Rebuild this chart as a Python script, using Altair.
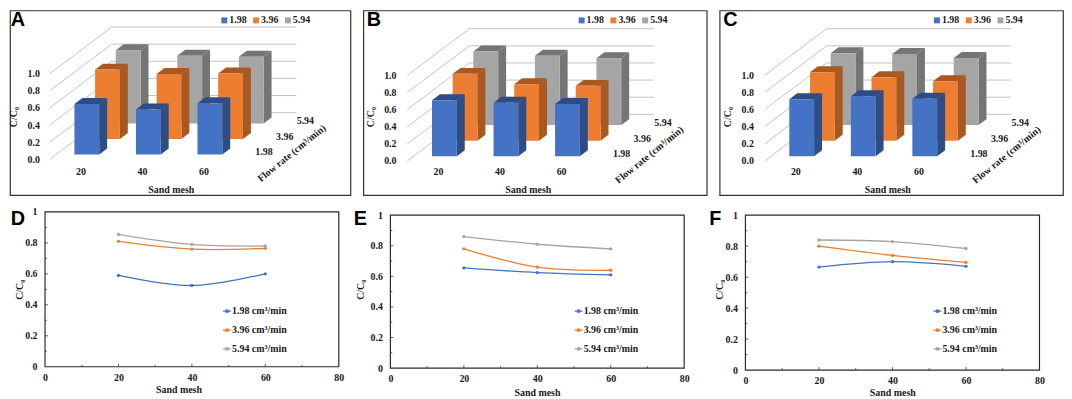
import altair as alt
import pandas as pd

MESH = [20, 40, 60]
FLOWS = ["1.98", "3.96", "5.94"]
VALUES = {
    "A": {"1.98": [0.59, 0.525, 0.60], "3.96": [0.81, 0.76, 0.765], "5.94": [0.855, 0.79, 0.78]},
    "B": {"1.98": [0.655, 0.625, 0.61], "3.96": [0.78, 0.66, 0.64], "5.94": [0.86, 0.81, 0.78]},
    "C": {"1.98": [0.665, 0.70, 0.67], "3.96": [0.80, 0.74, 0.695], "5.94": [0.84, 0.83, 0.785]},
}
LINE_PANELS = {"D": "A", "E": "B", "F": "C"}
FRONT = {"1.98": "#4472C4", "3.96": "#ED7D31", "5.94": "#A5A5A5"}
DARK = {"1.98": "#2C4D88", "3.96": "#A9591F", "5.94": "#757575"}
SUB = "C/C\u2080"
INK = "#1a1a1a"
SERIF = "Liberation Serif"
FS = 10

# one flow row of the 3D floor, in mesh units and in C/C0 units
ROW_X, ROW_Y = 6.72, 0.1816
FRONT_D, BAR_D, HALF_W = 0.308, 0.384, 4.03


def axis_3d_x(offset, title_x):
    return alt.Axis(values=MESH, format="d", domain=False, ticks=False, grid=False, labelPadding=2,
                    labelFlush=False, offset=offset, title="Sand mesh", titleX=title_x, titleY=25,
                    titleBaseline="middle", titleAlign="center", labelAngle=0)


def axis_3d_y(offset, title_x):
    return alt.Axis(values=[0, 0.2, 0.4, 0.6, 0.8, 1.0], format=".1f", domain=False, ticks=False, grid=False,
                    labelPadding=2, offset=offset, title=SUB, titleX=title_x, titleY=107, titleAngle=270,
                    titleAlign="center", titleBaseline="middle")


def panel_3d(name, w, x20, y0, ax_off, y_title, x_title, leg_x, letter_x):
    vals = VALUES[name]
    X = alt.X("x:Q", scale=alt.Scale(domain=[20, 60], range=[x20, x20 + 124], nice=False, zero=False),
              axis=axis_3d_x(-31, x_title))
    Y = alt.Y("y:Q", scale=alt.Scale(domain=[0, 1], range=[y0, y0 - 86.3], nice=False, zero=False),
              axis=axis_3d_y(ax_off, y_title))
    layers = []
    grid = []
    for lv in [0, 0.2, 0.4, 0.6, 0.8, 1.0]:
        grid += [
            {"x": 10, "y": lv, "k": lv, "o": 0},
            {"x": 10 + 3 * ROW_X, "y": lv + 3 * ROW_Y, "k": lv, "o": 1},
            {"x": 70 + 3 * ROW_X, "y": lv + 3 * ROW_Y, "k": lv, "o": 2},
        ]
    layers.append(alt.Chart(pd.DataFrame(grid)).mark_line(color="#c4c4c4", strokeWidth=1).encode(
        x=X, y=Y, detail="k:N", order="o:Q"))
    for r in [2, 1, 0]:
        fl = FLOWS[r]
        f = r + FRONT_D
        side, top, front = [], [], []
        for m, v in zip(MESH, vals[fl]):
            xl = m + f * ROW_X - HALF_W
            xr = m + f * ROW_X + HALF_W
            yb = f * ROW_Y
            yt = yb + v
            dx, dy = BAR_D * ROW_X, BAR_D * ROW_Y
            side += [{"x": xr, "y": yt, "y2": yb, "m": m}, {"x": xr + dx, "y": yt + dy, "y2": yb + dy, "m": m}]
            top += [{"x": xl, "y": yt, "y2": yt, "m": m}, {"x": xl + dx, "y": yt, "y2": yt + dy, "m": m},
                    {"x": xr, "y": yt, "y2": yt + dy, "m": m}, {"x": xr + dx, "y": yt + dy, "y2": yt + dy, "m": m}]
            front.append({"x": xl, "x2": xr, "y": yt, "y2": yb, "flow": fl})
        layers.append(alt.Chart(pd.DataFrame(side)).mark_area(color=DARK[fl]).encode(
            x=X, y=Y, y2="y2:Q", detail="m:N"))
        layers.append(alt.Chart(pd.DataFrame(top)).mark_area(color=DARK[fl]).encode(
            x=X, y=Y, y2="y2:Q", detail="m:N"))
        layers.append(alt.Chart(pd.DataFrame(front)).mark_rect().encode(
            x=X, x2="x2:Q", y=Y, y2="y2:Q",
            color=alt.Color("flow:N", scale=alt.Scale(domain=FLOWS, range=[FRONT[k] for k in FLOWS]),
                            legend=alt.Legend(orient="none", legendX=leg_x, legendY=5, direction="horizontal",
                                              title=None, symbolType="square", symbolSize=36, labelOffset=0,
                                              columnPadding=4, padding=0, labelFont=SERIF, labelFontWeight="bold",
                                              labelFontSize=FS, labelColor=INK, symbolStrokeWidth=0))))
    flow_lbl = [{"x": 76.3 + (i + 0.5) * ROW_X, "y": (i + 0.5) * ROW_Y - 0.01, "t": FLOWS[i]} for i in range(3)]
    layers.append(alt.Chart(pd.DataFrame(flow_lbl)).mark_text(
        font=SERIF, fontWeight="bold", fontSize=FS, color=INK).encode(x=X, y=Y, text="t:N"))
    flow_title = pd.DataFrame([{"x": 88.7, "y": 0.07, "t": "Flow rate (cm\u00b3/min)"}])
    layers.append(alt.Chart(flow_title).mark_text(
        font=SERIF, fontWeight="bold", fontSize=FS, color=INK, angle=321).encode(x=X, y=Y, text="t:N"))
    layers.append(alt.Chart(pd.DataFrame([{"t": name}])).mark_text(
        font="Liberation Sans", fontWeight="bold", fontSize=20, color="#000").encode(
        x=alt.value(letter_x), y=alt.value(10), text="t:N"))
    return alt.layer(*layers).properties(
        width=w, height=186,
        view=alt.ViewConfig(stroke="#333333", strokeWidth=1.2)).resolve_axis(x="shared", y="shared")


def panel_line(name, w, h, xa, xb, ya, yb, title_rel, x_title_x, x_title_dy, x_lab, leg_x, letter_x, letter_y):
    src = VALUES[LINE_PANELS[name]]
    names = [f + " cm\u00b3/min" for f in FLOWS]
    X = alt.X("x:Q", scale=alt.Scale(domain=[0, 80], range=[xa, xb], nice=False, zero=False),
              axis=alt.Axis(values=[0, 20, 40, 60, 80], format="d", domain=False, ticks=False, grid=False,
                            labelPadding=x_lab, labelFlush=False, offset=-(h - yb), title="Sand mesh",
                            titleX=x_title_x, titleY=x_title_dy, titleBaseline="middle", titleAlign="center",
                            labelAngle=0))
    Y = alt.Y("y:Q", scale=alt.Scale(domain=[0, 1], range=[yb, ya], nice=False, zero=False),
              axis=alt.Axis(values=[0, 0.2, 0.4, 0.6, 0.8, 1.0], format=".1~f", domain=False, ticks=False,
                            grid=False, labelPadding=8, offset=-xa, title=SUB, titleX=title_rel - xa, titleY=90,
                            titleAngle=270, titleAlign="center", titleBaseline="middle"))
    rows = []
    for fl, nm in zip(FLOWS, names):
        for m, v in zip(MESH, src[fl]):
            rows.append({"x": m, "y": v, "s": nm})
    df = pd.DataFrame(rows)
    color = alt.Color("s:N", scale=alt.Scale(domain=names, range=[FRONT[k] for k in FLOWS]),
                      legend=alt.Legend(orient="none", legendX=leg_x, legendY=107, title=None,
                                        symbolType="M-1,0L1,0M-.25,-.25L.25,-.25L.25,.25L-.25,.25Z",
                                        symbolSize=64, symbolStrokeWidth=1.3, labelOffset=0, rowPadding=9, padding=0,
                                        labelFont=SERIF, labelFontWeight="bold", labelFontSize=FS, labelColor=INK))
    y_ticks = [{"y": i / 10, "x": 0, "x2": 0.8 if i % 2 == 0 else 0.5} for i in range(1, 10)]
    x_ticks = [{"x": i, "y": 0, "y2": 0.019 if i % 20 == 0 else 0.012} for i in range(10, 80, 10)]
    layers = [
        alt.Chart(pd.DataFrame(y_ticks)).mark_rule(color="#333", strokeWidth=0.8).encode(x=X, x2="x2:Q", y=Y),
        alt.Chart(pd.DataFrame(x_ticks)).mark_rule(color="#333", strokeWidth=0.8).encode(x=X, y=Y, y2="y2:Q"),
        alt.Chart(pd.DataFrame([{"x": 0, "x2": 80, "y": 0, "y2": 1}])).mark_rect(
            fill="transparent", stroke="#2b2b2b", strokeWidth=1.2).encode(x=X, x2="x2:Q", y=Y, y2="y2:Q"),
        alt.Chart(df).mark_line(interpolate="catmull-rom", strokeWidth=1.3).encode(x=X, y=Y, color=color),
        alt.Chart(df).mark_point(filled=True, size=11, opacity=1).encode(x=X, y=Y, color=color),
        alt.Chart(pd.DataFrame([{"t": name}])).mark_text(
            font="Liberation Sans", fontWeight="bold", fontSize=20, color="#000").encode(
            x=alt.value(letter_x), y=alt.value(letter_y), text="t:N"),
    ]
    return alt.layer(*layers).properties(width=w, height=h)


top = alt.hconcat(
    panel_3d("A", 343, 71, 150, -31.7, -27.7, 162, 211, 8),
    panel_3d("B", 346, 75.3, 151.7, -35, -28, 165.7, 215, 10.7),
    panel_3d("C", 346, 76.3, 151.7, -36, -28, 169, 214, 11),
    spacing=11,
).resolve_scale(color="independent")

bottom = alt.hconcat(
    panel_line("D", 340, 199, 35.3, 331.3, 12, 168, 9.3, 169.7, 22.7, 6, 213.7, 8, 18.7),
    panel_line("E", 344, 199, 39.3, 335.3, 15.3, 169.3, 9.7, 187, 24.7, 6, 224, 9, 18.7),
    panel_line("F", 366, 199, 49, 345.3, 15.3, 171.3, 23, 197, 22.4, 6, 237.5, 18.7, 18.7),
    spacing=4,
).resolve_scale(color="independent")

chart = alt.vconcat(top, bottom, spacing=4).resolve_scale(color="independent").properties(
    padding=0
).configure_view(stroke=None).configure_axis(
    labelFont=SERIF, labelFontWeight="bold", labelFontSize=FS, labelColor=INK,
    titleFont=SERIF, titleFontWeight="bold", titleFontSize=FS, titleColor=INK,
)

chart.save("out.html", embed_options={"renderer": "svg", "actions": False})
